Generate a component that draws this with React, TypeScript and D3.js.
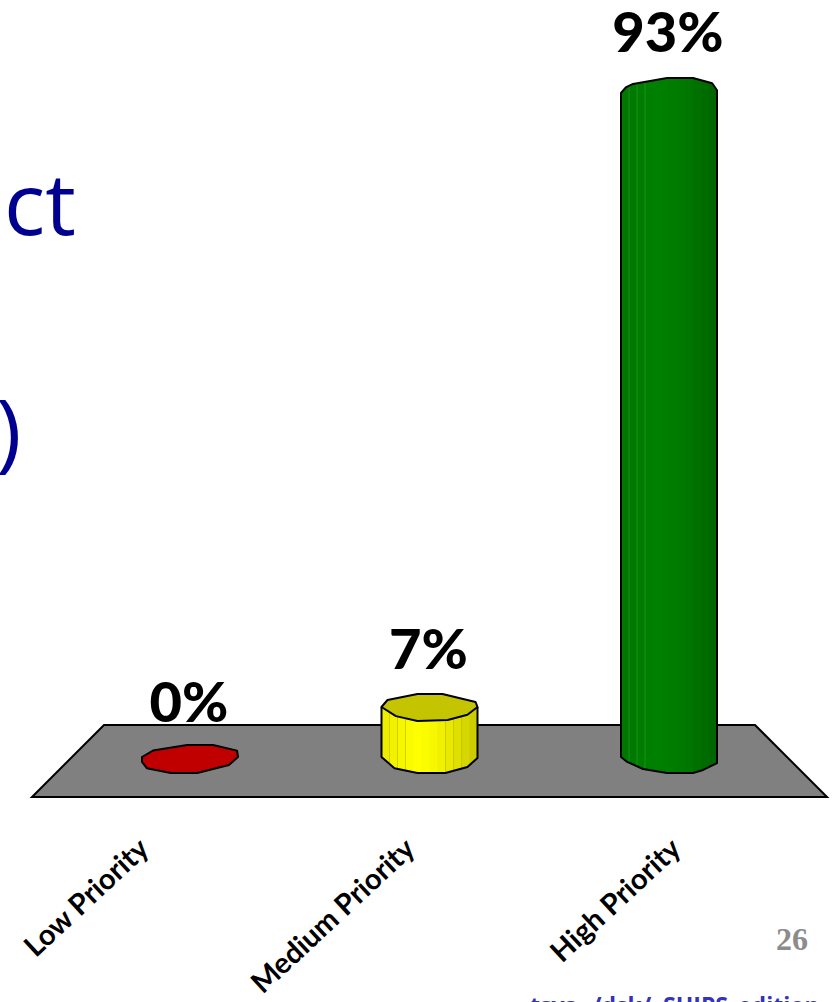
import * as d3 from 'd3'

const categories = ['Low Priority', 'Medium Priority', 'High Priority']
const values = [0, 7, 93]
const valueLabels = ['0%', '7%', '93%']
const labelGaps = [35, 38, 41]
const bodyColors = ['#c00000', '#ffff00', '#008000']
const capColors = ['#c00000', '#c4c400', '#008000']
const facetColors = ['#c00000', '#b8b800', '#2f9f2f']
const footerWords = ['tsys', '/dsk/', 'SHIPS', 'edition']
const footerStarts = [530, 592, 663, 738]

// outline of the faceted column ends, in units of the column's half width / cap height
const capOutline: [number, number][] = [
  [-1, 0], [-0.875, -0.5], [-0.25, -0.93], [0.27, -0.93], [0.96, -0.36], [1, 0],
  [0.79, 0.55], [0.38, 0.93], [-0.25, 1], [-0.7, 0.65],
]
const tallCapOutline: [number, number][] = [
  [-1, 0], [-0.9, -0.4], [-0.75, -0.65], [-0.04, -1.07], [0.5, -1.07], [0.9, -0.7], [1, -0.2],
]
const baseOutline: [number, number][] = [
  [-1, 0], [-0.73, 0.7], [-0.25, 1], [0.33, 1], [0.79, 0.62], [1, 0.06],
]
const tallBaseOutline: [number, number][] = [
  [-1, 0], [-0.87, 0.31], [-0.54, 0.75], [-0.04, 1], [0.5, 1], [0.71, 0.81], [1, 0.38],
]
const flatOutline: [number, number][] = [
  [-1, 0], [-0.77, -0.4], [-0.06, -0.75], [0.48, -0.75], [0.98, -0.4], [1, 0],
  [0.81, 0.5], [0.15, 1], [-0.4, 1], [-0.9, 0.7], [-1, 0.3],
]

const W = 840
const H = 1002
const floorTop = 725
const floorBottom = 797
const halfW = 48
const capH = 14
const baseH = 16

const x = d3.scalePoint<string>().domain(categories).range([190, 669])
const labelX = d3.scalePoint<string>().domain(categories).range([133, 665])
const y = d3.scaleLinear().domain([0, 93]).range([757, 93])
const line = d3.line()
const labelFont = 'Lato, "Open Sans", sans-serif'

function shade(color: string, t: number) {
  // darker to the right, brightest a little left of centre
  const k = t < 0.35 ? 0.93 + 0.07 * (t / 0.35) : 1 - 0.2 * Math.pow((t - 0.35) / 0.65, 1.5)
  const c = d3.rgb(color)
  return d3.rgb(c.r * k, c.g * k, c.b * k).formatHex()
}

export default function App() {
  const strips = d3.range(12)
  const strip = d3.scaleBand<number>().domain(strips).range([-halfW, halfW])
  return (
    <svg width={W} height={H} style={{ position: 'absolute', left: 0, top: 0 }}>
      <text x={4} y={235} fontFamily="'Open Sans', sans-serif" fontSize={86} fill="#000090">ct</text>
      <text x={-4} y={461} fontFamily="'Open Sans', sans-serif" fontSize={86} fill="#000090">)</text>

      <path
        d={`${line([[104, floorTop], [755, floorTop], [827, floorBottom], [32, floorBottom]])}Z`}
        fill="#808080"
        stroke="#000"
        strokeWidth={2}
      />

      {categories.map((c, i) => {
        const cx = x(c)!
        const top = y(values[i])
        const bottom = y(0)
        const v = values[i]
        if (v === 0) {
          const pts = flatOutline.map(([a, b]) => [cx + a * halfW, bottom + b * baseH] as [number, number])
          return <path key={c} d={`${line(pts)}Z`} fill={bodyColors[i]} stroke="#000" strokeWidth={2} strokeLinejoin="round" />
        }
        const tall = v > 50
        const base = (tall ? tallBaseOutline : baseOutline).map(([a, b]) => [cx + a * halfW, bottom + b * baseH] as [number, number])
        const cap = (tall ? tallCapOutline : capOutline).map(([a, b]) => [cx + a * halfW, top + b * capH] as [number, number])
        const sides: [number, number][] = [[cx - halfW, top], ...base, [cx + halfW, top]]
        const silhouette = tall ? [...sides.slice(0, -1), ...cap.slice().reverse()] : sides
        const facets = tall ? [1, 2, 3] : [1, 2, 3, 8, 9, 10]
        return (
          <g key={c}>
            <clipPath id={`body-${i}`}>
              <path d={`${line(silhouette)}Z`} />
            </clipPath>
            <g clipPath={`url(#body-${i})`}>
              {strips.map(s => (
                <rect
                  key={s}
                  x={cx + strip(s)!}
                  y={top - capH - 4}
                  width={strip.bandwidth() + 0.5}
                  height={bottom - top + capH + baseH + 8}
                  fill={shade(bodyColors[i], s / 11)}
                />
              ))}
              {facets.map(s => (
                <line
                  key={s}
                  x1={cx + strip(s)!}
                  x2={cx + strip(s)!}
                  y1={top - capH}
                  y2={bottom + baseH}
                  stroke={facetColors[i]}
                  strokeWidth={1}
                  strokeOpacity={0.6}
                />
              ))}
            </g>
            {tall ? (
              <path d={`${line(silhouette)}Z`} fill="none" stroke="#000" strokeWidth={2} strokeLinejoin="round" />
            ) : (
              <>
                <path d={line(sides)!} fill="none" stroke="#000" strokeWidth={2} strokeLinejoin="round" />
                <path d={`${line(cap)}Z`} fill={capColors[i]} stroke="#000" strokeWidth={2} strokeLinejoin="round" />
              </>
            )}
          </g>
        )
      })}

      {categories.map((c, i) => (
        <text
          key={c}
          x={x(c)! - 1}
          y={y(values[i]) - labelGaps[i]}
          textAnchor="middle"
          fontFamily={labelFont}
          fontWeight={900}
          fontSize={56}
          fill="#000"
        >
          {valueLabels[i]}
        </text>
      ))}

      {categories.map(c => (
        <text
          key={c}
          transform={`translate(${labelX(c)},${832}) rotate(-43)`}
          textAnchor="end"
          dy="0.9em"
          fontFamily={labelFont}
          fontWeight={700}
          fontSize={29}
          fill="#000"
        >
          {c}
        </text>
      ))}

      <text x={776} y={950} fontFamily="'Liberation Serif', serif" fontWeight={700} fontSize={32} fill="#8c8c8c">26</text>
      {footerWords.map((w, i) => (
        <text key={w} x={footerStarts[i]} y={1014} fontFamily="'Open Sans', sans-serif" fontWeight={700} fontSize={23} fill="#3333bb">{w}</text>
      ))}
    </svg>
  )
}
